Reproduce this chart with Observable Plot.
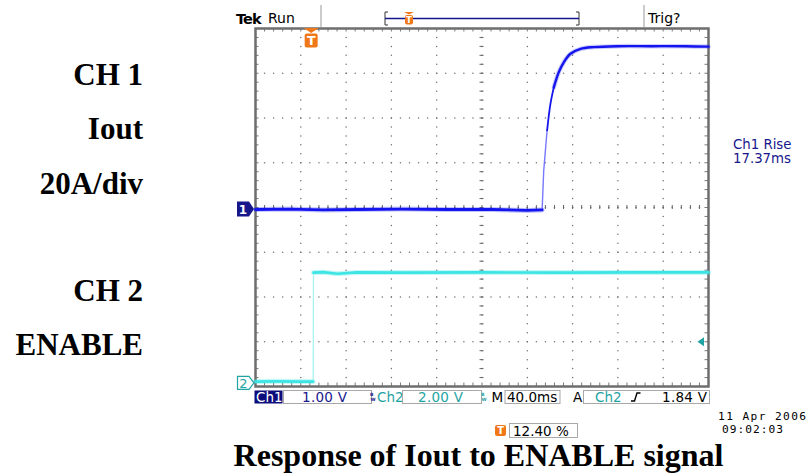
<!DOCTYPE html>
<html><head><meta charset="utf-8">
<script src="https://cdn.jsdelivr.net/npm/d3@7"></script>
<script src="https://cdn.jsdelivr.net/npm/@observablehq/plot@0.6"></script>
<style>
html,body{margin:0;padding:0;background:#fff;}
#chart{width:812px;height:473px;overflow:hidden;position:relative;}
</style></head><body><div id="chart"></div>
<script>
// ---- scope settings ----
const timePerDiv = 40;          // ms / div  (M 40.0ms)
const trigPct = 12.40;          // trigger position %
const xDivs = 10, yDivs = 8, subDivs = 5;
const ch1Scale = 1.00, ch1Pos = -0.045;   // V/div, ground position (div)
const ch2Scale = 2.00, ch2Pos = -3.93;
const trigLevel = 1.84;         // V on Ch2

// ---- traces (time ms from trigger, volts) ----
const ch1T = [-49.6, -20, 10, 40, 80, 120, 160, 190, 203.5, 204.9, 207.9, 210.9, 213.8, 218.2, 222.6, 228.5, 237.4, 249.1, 269.8, 300, 330, 350.4];
const ch1V = [0.00, 0.01, -0.01, 0.00, 0.01, 0.00, 0.00, -0.02, -0.01, 0.87, 1.77, 2.37, 2.73, 3.07, 3.29, 3.48, 3.59, 3.63, 3.65, 3.65, 3.65, 3.64];
const ch2T = [-49.6, -30, -10, 1.3, 1.6, 10, 22.8, 40, 80, 150, 220, 290, 350.4];
const ch2V = [0.08, 0.09, 0.08, 0.08, 4.95, 4.97, 4.90, 4.96, 4.95, 4.96, 4.95, 4.96, 4.96];

// ---- texts ----
const leftLabels = ["CH 1", "Iout", "20A/div", "CH 2", "ENABLE"];
const title = "Response of Iout to ENABLE signal";
const measLabel = ["Ch1 Rise", "17.37ms"];
const dateLines = ["11 Apr 2006", "09:02:03"];
const statusText = {tek: "Tek", run: "Run", trig: "Trig?"};
const barText = {ch1: "Ch1", v1: "1.00 V", ch2: "Ch2", v2: "2.00 V", m: "M", tb: "40.0ms", a: "A", tch: "Ch2", tl: "1.84 V", pos: "12.40 %"};

const t0 = -trigPct / 100 * xDivs * timePerDiv;
const t1 = t0 + xDivs * timePerDiv;
const yMin = -yDivs / 2, yMax = yDivs / 2;

const ch1 = ch1T.map((t, i) => ({t, y: ch1V[i] / ch1Scale + ch1Pos}));
const ch2 = ch2T.map((t, i) => ({t, y: ch2V[i] / ch2Scale + ch2Pos}));
const ch1Low = ch1.slice(0, 9), ch1Edge = ch1.slice(8, 11), ch1Mid = ch1.slice(10, 13), ch1High = ch1.slice(12);
const ch2Low = ch2.slice(0, 4), ch2Edge = ch2.slice(3, 5), ch2High = ch2.slice(4);

// graticule
const vLines = d3.range(1, xDivs).map(k => t0 + k * timePerDiv);
const hLines = d3.range(1, yDivs).map(k => yMin + k);
const ySub = d3.range(1, yDivs * subDivs).map(j => yMin + j / subDivs);
const xSub = d3.range(1, xDivs * subDivs).map(j => t0 + j * timePerDiv / subDivs);
const gridDots = [
  ...vLines.flatMap(x => ySub.map(y => ({x, y}))),
  ...hLines.flatMap(y => xSub.map(x => ({x, y})))
];
const xc = t0 + xDivs / 2 * timePerDiv, yc = 0;
const W = 812, H = 473, mL = 255, mR = 104, mT = 28, mB = 87;
const pxX = timePerDiv / ((W - mL - mR) / xDivs);   // ms per pixel
const pxY = yDivs / (H - mT - mB);                  // div per pixel

const C1 = "#1414ee", C1e = "#7878ff", C2 = "#3ce4e4", C2e = "#a8f2f2";
const NAVY = "#17178c", TEAL = "#1fa3a3", ORANGE = "#f07818", BOXG = "#a8a8a8";

const plot = Plot.plot({
  width: W, height: H,
  marginLeft: mL, marginRight: mR, marginTop: mT, marginBottom: mB,
  x: {domain: [t0, t1], axis: null},
  y: {domain: [yMin, yMax], axis: null},
  style: {background: "white", overflow: "visible"},
  marks: [
    Plot.dot(gridDots, {x: "x", y: "y", r: 0.75, fill: "#707070"}),
    // center-line ticks
    Plot.ruleY(ySub, {y: d => d, x1: xc - 2 * pxX, x2: xc + 2 * pxX, stroke: "#666", strokeWidth: 1}),
    Plot.ruleX(xSub, {x: d => d, y1: yc - 2 * pxY, y2: yc + 2 * pxY, stroke: "#666", strokeWidth: 1}),
    // border ticks
    Plot.ruleX(xSub, {x: d => d, y1: yMax, y2: yMax - 3.5 * pxY, stroke: "#777"}),
    Plot.ruleX(xSub, {x: d => d, y1: yMin, y2: yMin + 3.5 * pxY, stroke: "#777"}),
    Plot.ruleY(ySub, {y: d => d, x1: t0, x2: t0 + 3.5 * pxX, stroke: "#777"}),
    Plot.ruleY(ySub, {y: d => d, x1: t1, x2: t1 - 3.5 * pxX, stroke: "#777"}),
    Plot.frame({stroke: "#6e6e6e", strokeWidth: 2.5}),
    // Ch2 trace
    Plot.line(ch2Low, {x: "t", y: "y", stroke: C2, strokeWidth: 5, strokeOpacity: 0.3}),
    Plot.line(ch2High, {x: "t", y: "y", stroke: C2, strokeWidth: 5, strokeOpacity: 0.3}),
    Plot.line(ch2Edge, {x: "t", y: "y", stroke: C2e, strokeWidth: 1.3}),
    Plot.line(ch2Low, {x: "t", y: "y", stroke: C2, strokeWidth: 2.6}),
    Plot.line(ch2High, {x: "t", y: "y", stroke: C2, strokeWidth: 2.6}),
    // Ch1 trace
    Plot.line(ch1Low, {x: "t", y: "y", stroke: C1, strokeWidth: 5, strokeOpacity: 0.25}),
    Plot.line(ch1High, {x: "t", y: "y", stroke: C1, strokeWidth: 4.5, strokeOpacity: 0.22, curve: "catmull-rom"}),
    Plot.line(ch1Edge, {x: "t", y: "y", stroke: C1e, strokeWidth: 1.4}),
    Plot.line(ch1Mid, {x: "t", y: "y", stroke: C1, strokeWidth: 1.8, curve: "catmull-rom"}),
    Plot.line(ch1Low, {x: "t", y: "y", stroke: C1, strokeWidth: 2.8}),
    Plot.line(ch1High, {x: "t", y: "y", stroke: C1, strokeWidth: 2.4, strokeLinejoin: "round", curve: "catmull-rom"})
  ]
});
document.getElementById("chart").appendChild(plot);

// ---- overlay decorations ----
const svg = d3.select(plot);
const xs = plot.scale("x"), ys = plot.scale("y");
const X = v => xs.apply(v), Y = v => ys.apply(v);
const SANS = "DejaVu Sans", SERIF = "Liberation Serif", MONO = "DejaVu Sans Mono";
const g = svg.append("g");

function txt(x, y, s, o = {}) {
  return g.append("text").attr("x", x).attr("y", y).text(s)
    .attr("font-family", o.family || SANS).attr("font-size", o.size || 13.5)
    .attr("font-weight", o.weight || "normal").attr("fill", o.fill || "#000")
    .attr("text-anchor", o.anchor || "start")
    .attr("letter-spacing", o.ls || 0);
}
function tIcon(cx, top, w, h, tri) {
  const gg = g.append("g");
  let y0 = top;
  if (tri) {
    gg.append("path").attr("d", `M${cx - w / 2 - 1},${top} L${cx + w / 2 + 1},${top} L${cx},${top + tri} Z`).attr("fill", ORANGE);
    y0 = top + tri + 0.5;
  }
  gg.append("rect").attr("x", cx - w / 2).attr("y", y0).attr("width", w).attr("height", h).attr("rx", 2).attr("fill", ORANGE);
  gg.append("text").attr("x", cx).attr("y", y0 + h * 0.82).attr("text-anchor", "middle")
    .attr("font-family", SANS).attr("font-weight", "bold").attr("font-size", h * 0.9).attr("fill", "#fff").text("T");
}

// header
txt(236, 23.5, statusText.tek, {weight: "bold", size: 14.5, ls: -0.9});
txt(268, 23, statusText.run, {size: 14});
g.append("line").attr("x1", 321).attr("x2", 321).attr("y1", 5).attr("y2", 27).attr("stroke", "#999");
g.append("line").attr("x1", 644).attr("x2", 644).attr("y1", 5).attr("y2", 27).attr("stroke", "#bbb").attr("stroke-width", 1.5);
txt(648, 23, statusText.trig, {size: 14});
// record bracket
g.append("path").attr("d", "M388,12 L385,12 L385,25 L388,25 M576,12 L579,12 L579,25 L576,25")
  .attr("fill", "none").attr("stroke", "#333").attr("stroke-width", 1);
g.append("line").attr("x1", 385).attr("x2", 579).attr("y1", 18.5).attr("y2", 18.5).attr("stroke", NAVY).attr("stroke-width", 1.3);
tIcon(409, 12, 8, 9.5, 2.5);
// trigger position marker
tIcon(X(0), 28, 13, 14, 5);

// channel ground markers
const y1g = Y(ch1Pos), y2g = Y(ch2Pos);
g.append("path").attr("d", `M237,${y1g - 7.5} L249,${y1g - 7.5} L254,${y1g} L249,${y1g + 7.5} L237,${y1g + 7.5} Z`).attr("fill", NAVY);
txt(243, y1g + 4.5, "1", {fill: "#fff", size: 12, weight: "bold", anchor: "middle"});
g.append("path").attr("d", `M237.5,${y2g - 6.5} L249,${y2g - 6.5} L254,${y2g} L249,${y2g + 6.5} L237.5,${y2g + 6.5} Z`)
  .attr("fill", "#fff").attr("stroke", TEAL).attr("stroke-width", 1.2);
txt(243.5, y2g + 5, "2", {fill: TEAL, size: 13, anchor: "middle"});

// trigger level arrow
const yTl = Y(trigLevel / ch2Scale + ch2Pos);
g.append("path").attr("d", `M697.5,${yTl} L704,${yTl - 4.5} L704,${yTl + 4.5} Z`).attr("fill", TEAL);

// measurement
txt(733, 149, measLabel[0], {fill: NAVY, size: 13.3});
txt(733, 163, measLabel[1], {fill: NAVY, size: 13.3});

// bottom status bar
const bTop = 390.5, bH = 13, bBase = 402;
g.append("rect").attr("x", 254.5).attr("y", bTop).attr("width", 28).attr("height", bH).attr("fill", "#0c0c7a");
txt(256, bBase, barText.ch1, {fill: "#fff"});
function box(x0, x1) {
  g.append("rect").attr("x", x0).attr("y", bTop).attr("width", x1 - x0).attr("height", bH)
    .attr("fill", "none").attr("stroke", BOXG).attr("stroke-width", 1);
}
box(283.5, 371.5); txt(302, bBase, barText.v1, {fill: NAVY, ls: 0.3});
// bandwidth-limit indicator (small B over w)
function bw(x, col) {
  const t = g.append("text").attr("font-family", SANS).attr("font-size", 4.6).attr("font-weight", "bold").attr("fill", col);
  t.append("tspan").attr("x", x).attr("y", 396).text("B");
  t.append("tspan").attr("x", x + 1.2).attr("y", 400.5).text("W");
}
bw(371.8, NAVY);
txt(377, bBase, barText.ch2, {fill: TEAL});
box(402.5, 481.5); txt(418, bBase, barText.v2, {fill: TEAL, ls: 0.3});
bw(482.8, TEAL);
txt(491.5, bBase, barText.m);
box(505, 560); txt(507, bBase, barText.tb);
txt(573, bBase, barText.a);
box(583.5, 709.5);
txt(595, bBase, barText.tch, {fill: TEAL});
g.append("path").attr("d", "M631,401 L634.5,401 L637,393 L640.5,393").attr("fill", "none").attr("stroke", "#000").attr("stroke-width", 1.4);
txt(662, bBase, barText.tl, {ls: 0.3});

// horizontal position readout
tIcon(500.5, 425, 11, 11, 0);
g.append("rect").attr("x", 509.5).attr("y", 423.5).attr("width", 68).attr("height", 14).attr("fill", "none").attr("stroke", BOXG);
txt(513, 435.5, barText.pos);

// date
txt(718, 419.5, dateLines[0], {family: MONO, size: 11.2, ls: 1.4});
txt(722, 433, dateLines[1], {family: MONO, size: 11.2, ls: 1.0});

// left labels
const lblY = [85, 139, 194, 301, 355];
leftLabels.forEach((s, i) => txt(143, lblY[i], s, {family: SERIF, weight: "bold", size: 31, anchor: "end"}));

// title
txt(478.5, 466, title, {family: SERIF, weight: "bold", size: 32, anchor: "middle"});
</script>
</body></html>
